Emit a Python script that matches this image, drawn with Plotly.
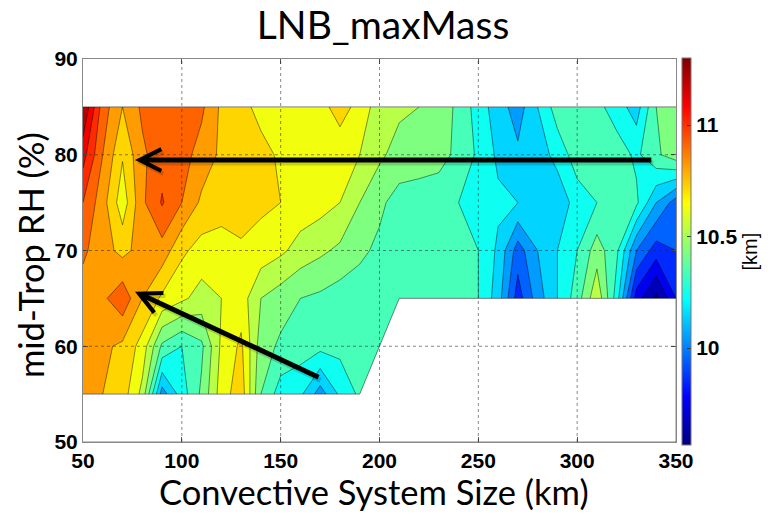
import plotly.graph_objects as go

# Grid: convective system size (km) x mid-tropospheric RH (%)
size_km = list(range(50, 351, 10))
rh_pct = [55, 60, 65, 70, 75, 80, 85]

# LNB height of max mass flux (km); None = no samples
lnb_rh55 = [10.82, 10.80, 10.75, 10.57, 10.05, 10.25, 10.42, 10.65, 10.76, 10.40,
            10.25, 10.22, 10.05, 10.22, 10.32] + [None] * 16
lnb_rh60 = [10.84, 10.82, 10.78, 10.66, 10.38, 10.30, 10.38, 10.62, 10.72, 10.45,
            10.38, 10.35, 10.33, 10.33, 10.33, 10.33] + [None] * 15
lnb_rh65 = [10.85, 10.88, 10.97, 10.80, 10.68, 10.62, 10.56, 10.60, 10.65, 10.50,
            10.45, 10.40, 10.38, 10.35, 10.35, 10.35, 10.35, 10.35, 10.35, 10.33,
            10.30, 10.15, 9.85, 10.05, 10.20, 10.35, 10.58, 10.25, 9.75, 9.57, 9.80]
lnb_rh70 = [10.92, 10.84, 10.77, 10.84, 10.86, 10.72, 10.66, 10.66, 10.69, 10.66,
            10.62, 10.56, 10.52, 10.48, 10.42, 10.38, 10.35, 10.33, 10.33, 10.33,
            10.30, 10.18, 9.95, 10.10, 10.20, 10.30, 10.45, 10.32, 10.00, 9.85, 9.90]
lnb_rh75 = [11.00, 10.84, 10.64, 10.88, 11.01, 10.90, 10.78, 10.74, 10.73, 10.72,
            10.70, 10.66, 10.64, 10.60, 10.50, 10.42, 10.36, 10.35, 10.35, 10.30,
            10.24, 10.22, 10.20, 10.10, 10.12, 10.25, 10.30, 10.35, 10.32, 10.10, 9.95]
lnb_rh80 = [11.14, 10.90, 10.71, 10.88, 10.96, 10.94, 10.86, 10.78, 10.75, 10.72,
            10.69, 10.65, 10.64, 10.63, 10.60, 10.52, 10.46, 10.45, 10.43, 10.38,
            10.28, 10.18, 10.12, 10.14, 10.24, 10.35, 10.35, 10.35, 10.28, 10.38, 10.46]
lnb_rh85 = [11.30, 10.95, 10.80, 10.92, 10.97, 10.97, 10.92, 10.78, 10.72, 10.68,
            10.65, 10.64, 10.66, 10.75, 10.66, 10.55, 10.52, 10.50, 10.45, 10.38,
            10.25, 10.15, 10.05, 10.20, 10.35, 10.35, 10.33, 10.25, 10.15, 10.40, 10.50]
lnb_km = [lnb_rh55, lnb_rh60, lnb_rh65, lnb_rh70, lnb_rh75, lnb_rh80, lnb_rh85]

x_ticks = [50, 100, 150, 200, 250, 300, 350]
y_ticks = [50, 60, 70, 80, 90]
cbar_ticks = [10, 10.5, 11]
cbar_ticktext = ["10", "10.5", "11"]
c_min, c_max = 9.565, 11.30
level_start, level_end, level_step = 9.6, 11.3, 0.1
x_range = [50, 350]
y_range = [50, 90]

# arrow endpoints (head, tail) in data units
arrows = [((76.3, 79.45), (338.3, 79.45)),
          ((76.3, 65.7), (169.9, 56.7))]

jet = [[0.0, "rgb(0,0,128)"], [0.125, "rgb(0,0,255)"], [0.375, "rgb(0,255,255)"],
       [0.625, "rgb(255,255,0)"], [0.875, "rgb(255,0,0)"], [1.0, "rgb(128,0,0)"]]

fig = go.Figure()

fig.add_trace(go.Contour(
    x=size_km, y=rh_pct, z=lnb_km,
    colorscale=jet, showscale=False,
    contours=dict(start=level_start, end=level_end, size=level_step, coloring="fill"),
    line=dict(color="rgba(0,0,0,0.75)", width=0.6, smoothing=0),
    hoverinfo="skip",
))

# blank out cells with no samples (below the lowest valid RH of each size bin)
lowest = []
for j in range(len(size_km)):
    col = [rh_pct[i] for i in range(len(rh_pct)) if lnb_km[i][j] is not None]
    lowest.append(min(col))
mask_x = size_km + [size_km[-1], size_km[0]]
mask_y = lowest + [y_range[0], y_range[0]]
fig.add_trace(go.Scatter(
    x=mask_x, y=mask_y, mode="lines", fill="toself", fillcolor="white",
    line=dict(color="rgba(0,0,0,0.6)", width=0.8), hoverinfo="skip", showlegend=False,
))
# upper edge of the sampled region
fig.add_trace(go.Scatter(
    x=size_km, y=[rh_pct[-1]] * len(size_km), mode="lines",
    line=dict(color="rgba(0,0,0,0.6)", width=0.8), hoverinfo="skip", showlegend=False,
))

# continuous colorbar
fig.add_trace(go.Scatter(
    x=[None], y=[None], mode="markers", showlegend=False, hoverinfo="skip",
    marker=dict(color=[c_min], cmin=c_min, cmax=c_max, colorscale=jet, showscale=True,
                colorbar=dict(
                    x=1.0101, xanchor="left", xpad=0, ypad=0,
                    y=0.497, yanchor="middle",
                    thickness=9, thicknessmode="pixels",
                    len=387, lenmode="pixels",
                    outlinewidth=1, outlinecolor="#777",
                    tickvals=cbar_ticks, ticktext=cbar_ticktext,
                    ticks="inside", ticklen=4, tickcolor="#333",
                    tickfont=dict(family="Liberation Sans", size=21, color="black", weight="bold"),
                    title=dict(text="[km]", side="right",
                               font=dict(family="Liberation Sans", size=20, color="black")),
                )),
))

# dotted grid on top of the fill
grid_style = dict(color="rgba(40,40,40,0.55)", width=1, dash="dot")
for xv in x_ticks[1:-1]:
    fig.add_shape(type="line", x0=xv, x1=xv, y0=y_range[0], y1=y_range[1],
                  xref="x", yref="y", line=grid_style, layer="above")
for yv in y_ticks[1:-1]:
    fig.add_shape(type="line", x0=x_range[0], x1=x_range[1], y0=yv, y1=yv,
                  xref="x", yref="y", line=grid_style, layer="above")

for (hx, hy), (tx, ty) in arrows:
    # soft drop shadow, then the arrow itself
    fig.add_annotation(x=hx, y=hy, ax=tx, ay=ty, xref="x", yref="y", axref="x", ayref="y",
                       text="", showarrow=True, arrowhead=5, arrowsize=0.85,
                       arrowwidth=5, arrowcolor="rgba(0,0,0,0.16)", xshift=2, yshift=-3)
    fig.add_annotation(x=hx, y=hy, ax=tx, ay=ty, xref="x", yref="y", axref="x", ayref="y",
                       text="", showarrow=True, arrowhead=5, arrowsize=0.85,
                       arrowwidth=5, arrowcolor="black")

tick_font = dict(family="Liberation Sans", size=21, color="black", weight="bold")
fig.update_xaxes(range=x_range, tickvals=x_ticks, ticks="inside", ticklen=5,
                 tickcolor="#555", showline=True, linecolor="#888", linewidth=1,
                 mirror="ticks", showgrid=False, zeroline=False, tickfont=tick_font)
fig.update_yaxes(range=y_range, tickvals=y_ticks, ticks="inside", ticklen=5,
                 tickcolor="#555", showline=True, linecolor="#888", linewidth=1,
                 mirror="ticks", showgrid=False, zeroline=False, tickfont=tick_font)

title_font = dict(family="Lato", size=34.5, color="black")
fig.add_annotation(text="Convective System Size (km)", xref="paper", yref="paper",
                   x=0.491, y=-0.128, xanchor="center", yanchor="middle",
                   showarrow=False, font=title_font)
fig.add_annotation(text="mid-Trop RH (%)", xref="paper", yref="paper",
                   x=-0.0894, y=0.488, xanchor="center", yanchor="middle",
                   textangle=-90, showarrow=False, font=title_font)

fig.update_layout(
    width=774, height=520,
    margin=dict(l=83, r=98, t=59, b=78),
    paper_bgcolor="white", plot_bgcolor="white",
    title=dict(text="LNB_maxMass", x=0.506, xref="paper", xanchor="center",
               y=0.952, yref="container", yanchor="middle",
               font=dict(family="Lato", size=39, color="black")),
)

fig.write_html("out.html")
